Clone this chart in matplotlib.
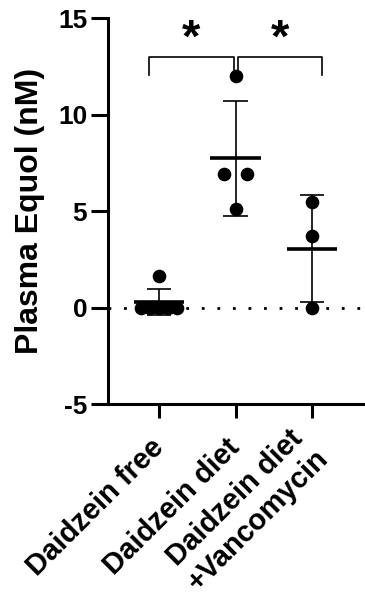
import numpy as np
from matplotlib import pyplot as plt

plt.rcParams['font.family'] = ['Liberation Sans', 'DejaVu Sans']
plt.rcParams['font.weight'] = 'bold'
plt.rcParams['axes.labelweight'] = 'bold'
plt.rcParams['axes.unicode_minus'] = False

groups = ["Daidzein free", "Daidzein diet", "Daidzein diet\n+Vancomycin"]
values = [
    [1.65, 0.0, 0.0, 0.0, 0.0, 0.0],
    [12.0, 6.9, 6.9, 5.1],
    [5.45, 3.7, 0.0],
]
# horizontal jitter of the dots (as drawn by Prism)
jitter = [
    [0.0, -0.235, -0.118, 0.0, 0.118, 0.235],
    [0.0, -0.15, 0.15, 0.0],
    [0.0, 0.0, 0.0],
]
ylabel = "Plasma Equol (nM)"
yticks = [-5, 0, 5, 10, 15]

fig = plt.figure(figsize=(3.65, 6.09), dpi=100)
ax = fig.add_axes([0.296, 0.3366, 0.704, 0.6338])

for i, vals in enumerate(values):
    vals = np.array(vals)
    m = vals.mean()
    sd = vals.std(ddof=1)
    ax.plot(i + np.array(jitter[i]), vals, 'o', color='black', ms=8.8, zorder=3)
    ax.hlines(m, i - 0.33, i + 0.33, color='black', lw=2.6, zorder=4)
    ax.vlines(i, m - sd, m + sd, color='black', lw=1.2, zorder=4)
    ax.hlines([m - sd, m + sd], i - 0.16, i + 0.16, color='black', lw=1.2, zorder=4)

ax.axhline(0, color='black', lw=2, linestyle=(0, (1, 4.6)), zorder=1)

# significance brackets
br_y, br_low = 13.0, 12.05
ax.plot([-0.13, -0.13, 0.975, 0.975], [br_low, br_y, br_y, 12.2], color='black', lw=1.2)
ax.plot([1.025, 1.025, 2.13, 2.13], [12.2, br_y, br_y, br_low], color='black', lw=1.2)
ax.text(0.42, 13.9, "*", ha='center', va='center', fontsize=34)
ax.text(1.58, 13.9, "*", ha='center', va='center', fontsize=34)

ax.set_xlim(-0.667, 2.69)
ax.set_ylim(-5, 15)
ax.set_yticks(yticks)
ax.set_xticks(range(len(groups)))
ax.set_xticklabels(groups, rotation=45, ha='right', va='center',
                   rotation_mode='anchor', multialignment='center', fontsize=21)
ax.set_ylabel(ylabel, fontsize=23, labelpad=9)
ax.tick_params(axis='y', labelsize=19, width=2.2, length=12, pad=3)
ax.tick_params(axis='x', width=2.2, length=10, pad=18)
for s in ['top', 'right']:
    ax.spines[s].set_visible(False)
for s in ['left', 'bottom']:
    ax.spines[s].set_linewidth(2.2)

fig.savefig("out.png", dpi=100)
